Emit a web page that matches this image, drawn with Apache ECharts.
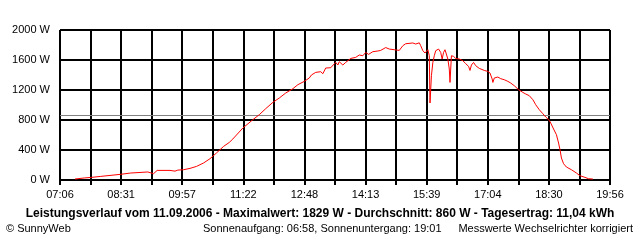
<!DOCTYPE html>
<html>
<head>
<meta charset="utf-8">
<script src="https://cdn.jsdelivr.net/npm/echarts@6/dist/echarts.min.js"></script>
<style>
html,body{margin:0;padding:0;background:#fff;}
#chart{width:640px;height:240px;}
</style>
</head>
<body>
<div id="chart"></div>
<script>
// ---- data ----
const times = ["07:27","07:40","07:50","08:03","08:16","08:30","08:45","09:09","09:17","09:22","09:40","09:47","09:51","09:59","10:08","10:17","10:27","10:36","10:45","10:55","11:03","11:08","11:22","11:36","11:45","11:54","12:04","12:13","12:22","12:32","12:39","12:48","12:55","12:58","13:04","13:11","13:14","13:18","13:25","13:32","13:35","13:37","13:42","13:46","13:53","14:00","14:05","14:10","14:14","14:18","14:24","14:31","14:35","14:42","14:47","14:54","14:56","15:01","15:06","15:10","15:20","15:24","15:29","15:31","15:34","15:37","15:41","15:43","15:44","15:46","15:48","15:50","15:52","15:56","15:59","16:01","16:03","16:05","16:07","16:09","16:11","16:12","16:13","16:14","16:17","16:20","16:25","16:30","16:34","16:38","16:40","16:42","16:45","16:48","16:53","17:00","17:05","17:08","17:11","17:12","17:14","17:19","17:23","17:28","17:33","17:37","17:42","17:48","17:54","17:58","18:03","18:08","18:12","18:17","18:22","18:26","18:31","18:33","18:37","18:41","18:44","18:46","18:48","18:51","18:55","19:02","19:09","19:14","19:21","19:26","19:32"];
const watts = [13,27,35,48,61,75,93,107,84,128,128,118,132,137,155,181,227,284,360,448,501,547,693,804,871,951,1035,1093,1160,1217,1271,1315,1360,1400,1435,1444,1417,1493,1497,1568,1533,1577,1533,1568,1621,1635,1667,1657,1701,1675,1711,1720,1728,1766,1746,1737,1711,1728,1791,1817,1827,1813,1829,1791,1724,1693,1737,1657,1027,1391,1568,1657,1724,1746,1701,1613,1701,1737,1711,1613,1480,1301,1480,1657,1648,1621,1613,1591,1551,1515,1461,1533,1568,1524,1488,1461,1448,1426,1347,1301,1360,1373,1351,1337,1315,1293,1257,1204,1168,1147,1124,1071,1004,937,884,840,795,760,680,604,493,404,293,217,173,137,93,57,35,17,13];
const tickLabels = ["07:06","08:31","09:57","11:22","12:48","14:13","15:39","17:04","18:30","19:56"];
const average = 860;
const yTicks = [0,400,800,1200,1600,2000];
const titleText = "Leistungsverlauf vom 11.09.2006 - Maximalwert: 1829 W - Durchschnitt: 860 W - Tagesertrag: 11,04 kWh";
const copyright = "\u00A9 SunnyWeb";
const sunText = "Sonnenaufgang: 06:58, Sonnenuntergang: 19:01";
const noteText = "Messwerte Wechselrichter korrigiert";

// ---- build ----
const startMin = 7*60+6, endMin = 19*60+56;
const span = endMin - startMin;          // 770
const gridStep = span / 18;
function toMin(s){const p=s.split(':');return (+p[0])*60+(+p[1])-startMin;}
const seriesData = times.map((t,i)=>[toMin(t), watts[i]]);

const FONT = '"Liberation Sans", Arial, sans-serif';
const chart = echarts.init(document.getElementById('chart'), null, {renderer:'canvas'});
chart.setOption({
  animation:false,
  backgroundColor:'#ffffff',
  grid:{left:60,right:30,top:30,bottom:60,containLabel:false},
  xAxis:{
    type:'value', min:0, max:span, interval:gridStep,
    axisLine:{show:true,lineStyle:{color:'#000',width:2}},
    axisTick:{show:true,length:5,lineStyle:{color:'#000',width:2}},
    splitLine:{show:true,lineStyle:{color:'#000',width:2}},
    axisLabel:{
      show:true, margin:9, color:'#000', fontFamily:FONT, fontSize:11,
      showMinLabel:true, showMaxLabel:true,
      formatter:function(v){
        const k=Math.round(v/gridStep);
        if(k%2!==0) return '';
        return tickLabels[k/2]||'';
      }
    }
  },
  yAxis:{
    type:'value', min:yTicks[0], max:yTicks[yTicks.length-1], interval:yTicks[1]-yTicks[0],
    axisLine:{show:false},
    axisTick:{show:false},
    splitLine:{show:true,lineStyle:{color:'#000',width:2}},
    axisLabel:{margin:10,color:'#000',fontFamily:FONT,fontSize:11,formatter:function(v){return String(v)+' W';}}
  },
  series:[{
    type:'line', data:seriesData, showSymbol:false, symbol:'none',
    lineStyle:{color:'#ff0000',width:1}, z:5,
    markLine:{
      silent:true, symbol:['none','none'], label:{show:false},
      lineStyle:{color:'#808080',width:1,type:'solid'},
      data:[{yAxis:average}]
    }
  }],
  graphic:[
    {type:'text',left:'center',top:208,style:{text:titleText,fill:'#000',font:'bold 12px '+FONT}},
    {type:'text',x:6,y:229,style:{text:copyright,fill:'#000',font:'11px '+FONT,textAlign:'left',textVerticalAlign:'middle'}},
    {type:'text',x:203,y:229,style:{text:sunText,fill:'#000',font:'11px '+FONT,textAlign:'left',textVerticalAlign:'middle'}},
    {type:'text',x:633,y:229,style:{text:noteText,fill:'#000',font:'11px '+FONT,textAlign:'right',textVerticalAlign:'middle'}}
  ]
});
</script>
</body>
</html>
